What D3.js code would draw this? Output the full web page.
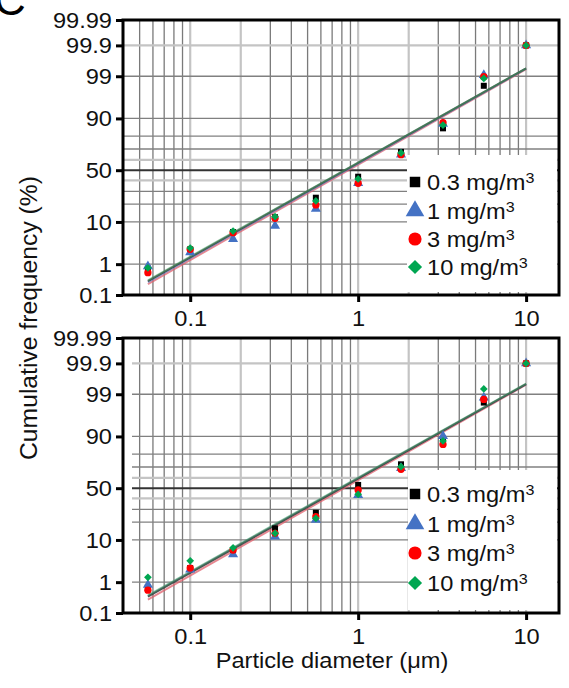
<!DOCTYPE html>
<html>
<head>
<meta charset="utf-8">
<script src="https://cdn.jsdelivr.net/npm/d3@7"></script>
<style>
  html, body { margin: 0; padding: 0; background: #fff; }
  svg { display: block; font-family: "Liberation Sans", Arial, Helvetica, sans-serif; }
  svg text { font-family: "Liberation Sans", Arial, Helvetica, sans-serif; }
</style>
</head>
<body>
<svg id="chart" width="569" height="688"></svg>
<script>
// ---------------- DATA ----------------
const diameters = [0.056, 0.1, 0.18, 0.32, 0.56, 1.0, 1.8, 3.2, 5.6, 10];
const seriesNames = ["0.3 mg/m", "1 mg/m", "3 mg/m", "10 mg/m"];
const seriesColors = ["#000000", "#4472C4", "#FF0000", "#00A651"];
const fitColors = ["#3a3a3a", "#5b7fc4", "#e0606c", "#3f9a5e"];

// top panel cumulative frequency (%)
const topBlack = [0.75, 2.5, 6.3, 12.2, 24.8, 43.6, 67.5, 85.0, 98.17, 99.9];
const topBlue  = [0.86, 2.1, 4.4, 8.4, 16.9, 37.5, 65.0, 87.5, 99.08, 99.9];
const topRed   = [0.56, 2.5, 6.1, 11.7, 19.5, 37.3, 65.0, 88.0, 98.97, 99.9];
const topGreen = [0.78, 2.7, 6.6, 12.5, 22.3, 41.4, 66.5, 86.8, 98.85, 99.9];
// bottom panel cumulative frequency (%)
const botBlack = [0.70, 2.4, 6.3, 16.0, 27.2, 53.2, 72.3, 89.0, 98.3, 99.9];
const botBlue  = [0.83, 2.2, 5.1, 11.5, 21.6, 43.3, 69.0, 90.2, 98.75, 99.9];
const botRed   = [0.58, 2.4, 6.3, 13.2, 24.0, 48.2, 68.0, 86.1, 98.6, 99.9];
const botGreen = [1.37, 3.6, 7.0, 13.2, 22.8, 44.0, 70.3, 87.9, 99.3, 99.9];

// fitted lines: value (%) at first and last diameter
const fitX = [0.056, 10];
const topFitStart = [0.30, 0.28, 0.24, 0.32];
const topFitEnd   = [99.42, 99.40, 99.38, 99.42];
const botFitStart = [0.36, 0.38, 0.29, 0.40];
const botFitEnd   = [99.5, 99.5, 99.48, 99.52];

// ticks / grid
const yTicks = [0.1, 1, 10, 50, 90, 99, 99.9, 99.99];
const yTickLabels = ["0.1", "1", "10", "50", "90", "99", "99.9", "99.99"];
const xTicks = [0.1, 1, 10];
const xTickLabels = ["0.1", "1", "10"];
const xGrid = [0.05,0.06,0.07,0.08,0.09,0.1,0.2,0.3,0.4,0.5,0.6,0.7,0.8,0.9,1,2,3,4,5,6,7,8,9,10];
const xGridLight = [0.1, 0.2, 1, 2, 10];
const yGrid = [1, 10, 20, 30, 40, 50, 60, 70, 80, 90, 99, 99.9];
const yGridLight = [40, 60, 99.9];
const yTitle = "Cumulative frequency (%)";
const xTitle = "Particle diameter (\u03bcm)";
const panelLetter = "C";

// ---------------- HELPERS ----------------
function probit(p) {
  const a = [-3.969683028665376e+01, 2.209460984245205e+02, -2.759285104469687e+02, 1.383577518672690e+02, -3.066479806614716e+01, 2.506628277459239e+00];
  const b = [-5.447609879822406e+01, 1.615858368580409e+02, -1.556989798598866e+02, 6.680131188771972e+01, -1.328068155288572e+01];
  const c = [-7.784894002430293e-03, -3.223964580411365e-01, -2.400758277161838e+00, -2.549671348283310e+00, 4.374664141464968e+00, 2.938163982698783e+00];
  const d = [7.784695709041462e-03, 3.224671290700398e-01, 2.445134137142996e+00, 3.754408661907416e+00];
  const plow = 0.02425, phigh = 1 - plow;
  let q, r;
  if (p < plow) {
    q = Math.sqrt(-2 * Math.log(p));
    return (((((c[0]*q+c[1])*q+c[2])*q+c[3])*q+c[4])*q+c[5]) / ((((d[0]*q+d[1])*q+d[2])*q+d[3])*q+1);
  } else if (p <= phigh) {
    q = p - 0.5; r = q*q;
    return (((((a[0]*r+a[1])*r+a[2])*r+a[3])*r+a[4])*r+a[5])*q / (((((b[0]*r+b[1])*r+b[2])*r+b[3])*r+b[4])*r+1);
  } else {
    q = Math.sqrt(-2 * Math.log(1 - p));
    return -(((((c[0]*q+c[1])*q+c[2])*q+c[3])*q+c[4])*q+c[5]) / ((((d[0]*q+d[1])*q+d[2])*q+d[3])*q+1);
  }
}
const z = pct => probit(pct / 100);
const STRETCH = 1.073; // reference type is slightly wider than Arial metrics
function stretch(sel) {
  sel.each(function () {
    const w = this.getComputedTextLength();
    d3.select(this).attr("textLength", w * STRETCH).attr("lengthAdjust", "spacingAndGlyphs");
  });
}

// ---------------- LAYOUT ----------------
const svg = d3.select("#chart");
const left = 123, right = 559;
const x = d3.scaleLog().domain([0.0398, 15.7]).range([left, right]);

const panels = [
  { top: 20, bottom: 295, gridX0: 123, series: [topBlack, topBlue, topRed, topGreen],
    fitStart: topFitStart, fitEnd: topFitEnd,
    legend: { x: 407, y: 155, w: 150, h: 137, rows: [182, 211, 239, 267] } },
  { top: 338, bottom: 613, gridX0: 132, series: [botBlack, botBlue, botRed, botGreen],
    fitStart: botFitStart, fitEnd: botFitEnd,
    legend: { x: 408, y: 470, w: 149, h: 140, rows: [494, 524, 553, 583] } }
];

const symbolTypes = [d3.symbolSquare, d3.symbolTriangle, d3.symbolCircle, d3.symbolSquare];
const symbolRot = [0, 0, 0, 45];
const dataSizes = [36, 44, 42, 30];
const legendSizes = [110, 150, 135, 100];
const fitOrder = [2, 1, 0, 3];
const fitOpacity = [0.85, 0.7, 0.75, 0.55];

panels.forEach((P) => {
  const y = d3.scaleLinear().domain([probit(0.001), probit(0.9999)]).range([P.bottom, P.top]);
  const g = svg.append("g");

  // vertical grid
  g.selectAll(".vg").data(xGrid).join("line")
    .attr("x1", d => x(d)).attr("x2", d => x(d))
    .attr("y1", P.top).attr("y2", P.bottom)
    .attr("stroke", d => xGridLight.includes(d) ? "#c4c4c4" : "#7a7a7a")
    .attr("stroke-width", d => xGridLight.includes(d) ? 2.2 : 1.3);

  // horizontal grid
  g.selectAll(".hg").data(yGrid).join("line")
    .attr("x1", P.gridX0).attr("x2", right)
    .attr("y1", d => y(z(d))).attr("y2", d => y(z(d)))
    .attr("stroke", d => d === 50 ? "#333" : (yGridLight.includes(d) ? "#c4c4c4" : "#808080"))
    .attr("stroke-width", d => d === 50 ? 2 : (yGridLight.includes(d) ? 2.2 : 1.3));

  // legend background box (covers grid)
  g.append("rect").attr("x", P.legend.x).attr("y", P.legend.y)
    .attr("width", P.legend.w).attr("height", P.legend.h).attr("fill", "#fff");

  // fit lines
  fitOrder.forEach(si => {
    const pts = [[fitX[0], P.fitStart[si]], [fitX[1], P.fitEnd[si]]];
    g.append("path")
      .attr("d", d3.line().x(d => x(d[0])).y(d => y(z(d[1])))(pts))
      .attr("stroke", fitColors[si]).attr("stroke-width", 2)
      .attr("stroke-opacity", fitOpacity[si]).attr("fill", "none");
  });

  // data markers
  P.series.forEach((vals, si) => {
    g.selectAll(".m" + si).data(vals).join("path")
      .attr("transform", (d, i) => `translate(${x(diameters[i])},${y(z(d))}) rotate(${symbolRot[si]})`)
      .attr("d", d3.symbol().type(symbolTypes[si]).size(dataSizes[si]))
      .attr("fill", seriesColors[si]);
  });

  // frame
  g.append("rect").attr("x", left).attr("y", P.top)
    .attr("width", right - left).attr("height", P.bottom - P.top)
    .attr("fill", "none").attr("stroke", "#000").attr("stroke-width", 3);

  // y axis
  const yAx = g.append("g").attr("transform", `translate(${left},0)`)
    .call(d3.axisLeft(y).tickValues(yTicks.map(z)).tickSize(7).tickPadding(4)
      .tickFormat((d, i) => yTickLabels[i]));
  yAx.attr("font-size", null).attr("font-family", null);
  yAx.select(".domain").remove();
  yAx.selectAll(".tick line").attr("stroke-width", 3);
  yAx.selectAll("text").style("font-size", "22px").attr("fill", "#111");
  stretch(yAx.selectAll("text"));

  // x axis
  const xAx = g.append("g").attr("transform", `translate(0,${P.bottom})`)
    .call(d3.axisBottom(x).tickValues(xTicks).tickSize(7).tickPadding(8.5)
      .tickFormat((d, i) => xTickLabels[i]));
  xAx.attr("font-size", null).attr("font-family", null);
  xAx.select(".domain").remove();
  xAx.selectAll(".tick line").attr("stroke-width", 3);
  xAx.selectAll("text").style("font-size", "22px").attr("fill", "#111");
  stretch(xAx.selectAll("text"));

  // legend
  seriesNames.forEach((name, si) => {
    const cy = P.legend.rows[si];
    g.append("path")
      .attr("transform", `translate(415,${cy}) rotate(${symbolRot[si]})`)
      .attr("d", d3.symbol().type(symbolTypes[si]).size(legendSizes[si]))
      .attr("fill", seriesColors[si]);
    const t = g.append("text").attr("x", 427).attr("y", cy + 8)
      .style("font-size", "22px").attr("fill", "#111");
    t.append("tspan").text(name);
    t.append("tspan").attr("dy", -7).style("font-size", "15px").text("3");
    stretch(t);
  });
});

// axis titles
const yt = svg.append("text")
  .attr("transform", "translate(37,318) rotate(-90)")
  .attr("text-anchor", "middle").style("font-size", "23px")
  .attr("fill", "#111").text(yTitle);
stretch(yt);

const xt = svg.append("text")
  .attr("x", 332).attr("y", 668).attr("text-anchor", "middle")
  .style("font-size", "22px")
  .attr("fill", "#111").text(xTitle);
stretch(xt);

// panel letter (partially cut at the top edge, as in the reference)
svg.append("text").attr("x", -6).attr("y", 15)
  .style("font-size", "44px").attr("fill", "#000").text(panelLetter);
</script>
</body>
</html>
